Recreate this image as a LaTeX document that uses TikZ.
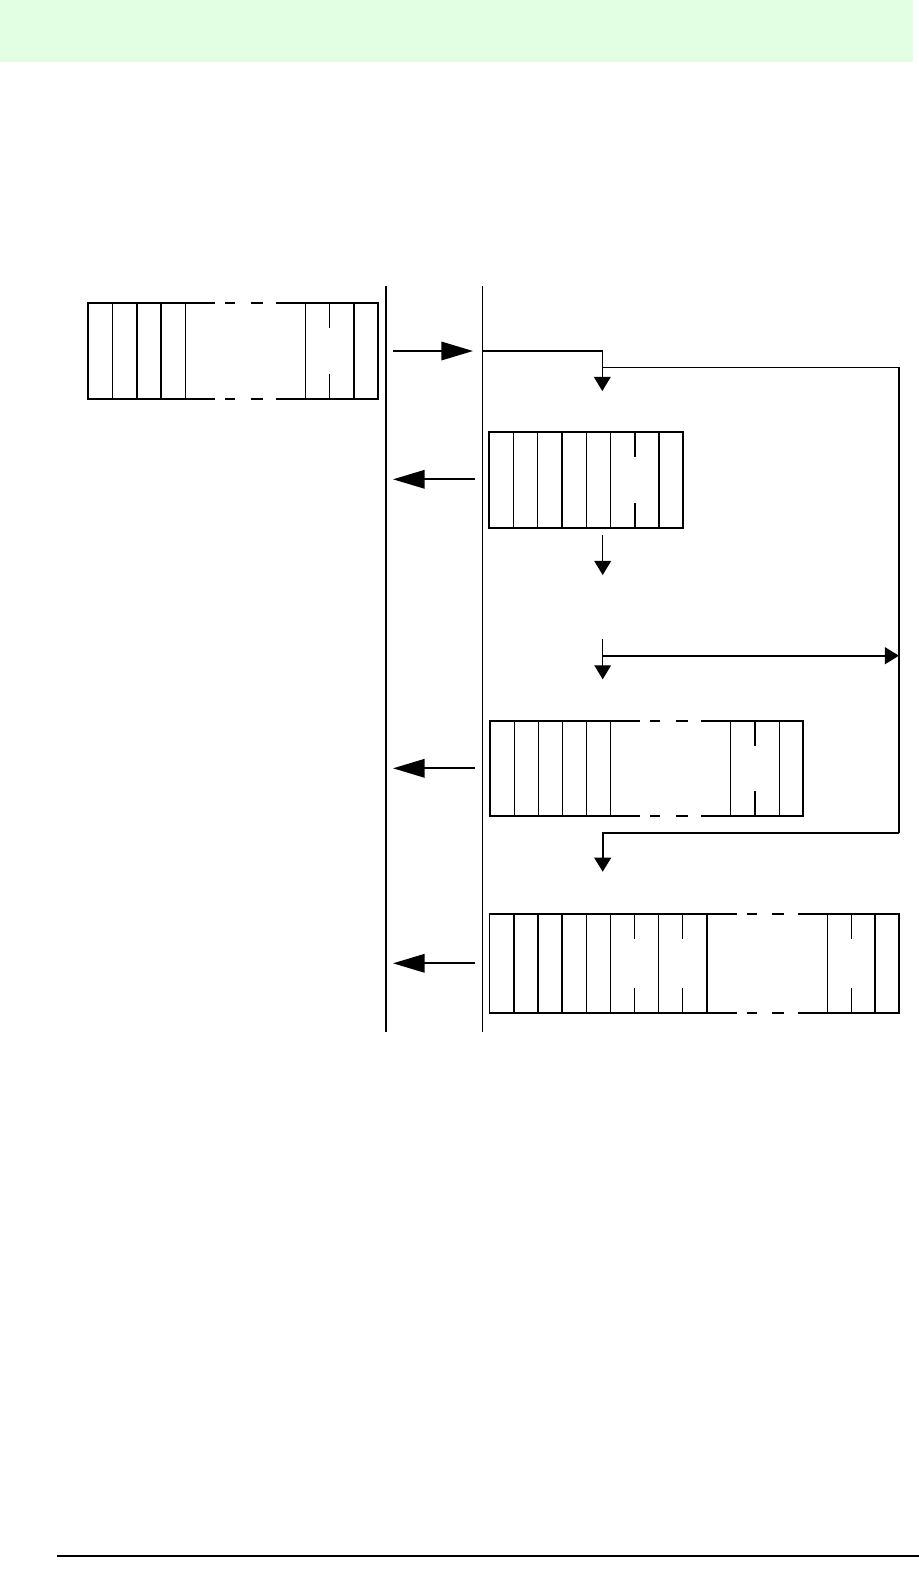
\documentclass[tikz,border=0pt]{standalone}
\usepackage{tikz}
\usetikzlibrary{arrows.meta,calc,positioning}
\definecolor{BandGreen}{RGB}{226,255,227}
\tikzset{
  boxline/.style={line width=1.1pt,line cap=rect},
  cellline/.style={line width=0.85pt},
  bigarrow/.style={line width=1.1pt,-{Triangle[length=18pt,width=10.5pt]}},
  smallarrow/.style={line width=0.75pt,-{Triangle[length=8pt,width=9.5pt]}},
  flowline/.style={line width=0.75pt},
}
% broken top and bottom edge over a 120 px gap: x0, ytop, ybot
\newcommand{\gapedge}[3]{%
  \foreach \yy in {#2,#3} {
    \draw[boxline,line cap=butt] (#1,\yy) -- ++(29.7,0);
    \draw[boxline,line cap=butt] (#1+39.7,\yy) -- ++(10,0);
    \draw[boxline,line cap=butt] (#1+65.4,\yy) -- ++(12,0);
    \draw[boxline,line cap=butt] (#1+90.7,\yy) -- ++(29.7,0);
  }}
% divider with a break in the middle: x, ytop, ybot
\newcommand{\splitdiv}[3]{%
  \draw[cellline] (#1,#2) -- ++(0,25);
  \draw[cellline] (#1,#3) -- ++(0,-25);}
\begin{document}
\begin{tikzpicture}[x=0.02cm,y=-0.02cm,>=Latex]
        \useasboundingbox (0,0) rectangle (919,1583);
        \fill[BandGreen] (0,0) rectangle (913,62);
        \draw[line width=0.7pt] (57,1556) -- (919,1556);
        % the two boundaries
        \draw[line width=1.1pt] (386,286) -- (386,1032);
        \draw[line width=0.75pt] (482.3,286) -- (482.3,1032);
        % frame 1
        \draw[boxline] (185.3,303) -- (88,303) -- (88,399) -- (185.3,399);
        \draw[boxline] (305.7,303) -- (378,303) -- (378,399) -- (305.7,399);
        \gapedge{185.3}{303}{399}
        \foreach \x in {112.5,137,161,185.3,305.7,354}
          \draw[cellline] (\x,303) -- (\x,399);
        \splitdiv{329.5}{303}{399}
        % frame 2
        \draw[boxline] (489.3,431.7) rectangle (683.3,528.3);
        \foreach \x in {513.5,537.7,562,586.3,610.5,659}
          \draw[cellline] (\x,431.7) -- (\x,528.3);
        \splitdiv{634.8}{431.7}{528.3}
        % frame 3
        \draw[boxline] (610.7,720.7) -- (490,720.7) -- (490,816) -- (610.7,816);
        \draw[boxline] (730.7,720.7) -- (803.3,720.7) -- (803.3,816) -- (730.7,816);
        \gapedge{610.7}{720.7}{816}
        \foreach \x in {514.3,538.3,562.3,586.7,610.7,730.7,779.3}
          \draw[cellline] (\x,720.7) -- (\x,816);
        \splitdiv{755}{720.7}{816}
        % frame 4
        \draw[boxline] (706.8,913.7) -- (489.5,913.7) -- (489.5,1012.6) -- (706.8,1012.6);
        \draw[boxline] (827.3,913.7) -- (899.3,913.7) -- (899.3,1012.6) -- (827.3,1012.6);
        \gapedge{706.8}{913.7}{1012.6}
        \foreach \x in {513.9,538.1,562.2,586.3,610.4,658.6,706.8,827.3,875.2}
          \draw[cellline] (\x,913.7) -- (\x,1012.6);
        \foreach \x in {634.5,682.7,851.4}
          \splitdiv{\x}{913.7}{1012.6}
        % connector ends
        \coordinate (sendA) at (393,351);
        \coordinate (sendB) at (473,351);
        \coordinate (backA1) at (475,479.3);
        \coordinate (backA2) at (393,479.3);
        \coordinate (backB1) at (475,768.3);
        \coordinate (backB2) at (393,768.3);
        \coordinate (backC1) at (475,963.3);
        \coordinate (backC2) at (393,963.3);
        \coordinate (rcv) at (482.3,351);
        \coordinate (bendA) at (602.3,351);
        \coordinate (stepA) at (602.3,391);
        \coordinate (loopA) at (602.3,367.3);
        \coordinate (loopB) at (899,367.3);
        \coordinate (loopC) at (899,832.7);
        \coordinate (loopD) at (602.7,832.7);
        \coordinate (stepD) at (602.7,871.7);
        \coordinate (stepB1) at (602.7,535);
        \coordinate (stepB2) at (602.7,575);
        \coordinate (stepC1) at (602.7,639);
        \coordinate (stepC2) at (602.7,679.3);
        \coordinate (jumpA) at (602.7,655.7);
        \coordinate (jumpB) at (899,655.7);
        % arrows
        \draw[bigarrow] (sendA) -- (sendB);
        \draw[bigarrow] (backA1) -- (backA2);
        \draw[bigarrow] (backB1) -- (backB2);
        \draw[bigarrow] (backC1) -- (backC2);
        \draw[smallarrow] (rcv) -- (bendA) -- (stepA);
        \draw[flowline] (loopA) -- (loopB) -- (loopC);
        \draw[smallarrow,line width=1.1pt] (loopC) -- (loopD) -- (stepD);
        \draw[smallarrow] (stepB1) -- (stepB2);
        \draw[smallarrow] (stepC1) -- (stepC2);
        \draw[smallarrow,line width=1.1pt] (jumpA) -- (jumpB);
      \end{tikzpicture}
\end{document}
